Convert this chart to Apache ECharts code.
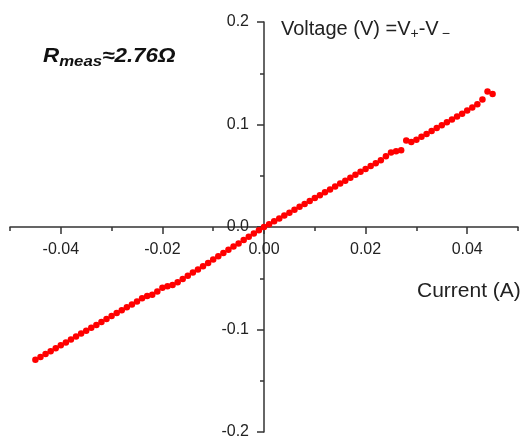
<!DOCTYPE html>
<html>
<head>
<meta charset="utf-8">
<script src="https://cdn.jsdelivr.net/npm/echarts@6/dist/echarts.min.js"></script>
<style>
  html, body { margin: 0; padding: 0; background: #fff; }
  #chart { width: 522px; height: 442px; }
</style>
</head>
<body>
<div id="chart"></div>
<script>
// Measured I-V sweep: current (A) and voltage V+ - V- (V)
const current = [
  -0.045, -0.044, -0.043, -0.042, -0.041, -0.040, -0.039, -0.038, -0.037, -0.036,
  -0.035, -0.034, -0.033, -0.032, -0.031, -0.030, -0.029, -0.028, -0.027, -0.026,
  -0.025, -0.024, -0.023, -0.022, -0.021, -0.020, -0.019, -0.018, -0.017, -0.016,
  -0.015, -0.014, -0.013, -0.012, -0.011, -0.010, -0.009, -0.008, -0.007, -0.006,
  -0.005, -0.004, -0.003, -0.002, -0.001, 0.000, 0.001, 0.002, 0.003, 0.004,
  0.005, 0.006, 0.007, 0.008, 0.009, 0.010, 0.011, 0.012, 0.013, 0.014,
  0.015, 0.016, 0.017, 0.018, 0.019, 0.020, 0.021, 0.022, 0.023, 0.024,
  0.025, 0.026, 0.027, 0.028, 0.029, 0.030, 0.031, 0.032, 0.033, 0.034,
  0.035, 0.036, 0.037, 0.038, 0.039, 0.040, 0.041, 0.042, 0.043, 0.044,
  0.045
];
const voltage = [
  -0.1295, -0.1268, -0.1240, -0.1212, -0.1183, -0.1154, -0.1126, -0.1097, -0.1068, -0.1040,
  -0.1011, -0.0983, -0.0955, -0.0926, -0.0897, -0.0869, -0.0840, -0.0812, -0.0783, -0.0755,
  -0.0727, -0.0695, -0.0672, -0.0662, -0.0630, -0.0592, -0.0578, -0.0566, -0.0540, -0.0508,
  -0.0476, -0.0445, -0.0414, -0.0382, -0.0350, -0.0318, -0.0286, -0.0254, -0.0222, -0.0191,
  -0.0160, -0.0128, -0.0096, -0.0064, -0.0032, 0.0000, 0.0026, 0.0055, 0.0083, 0.0112,
  0.0140, 0.0168, 0.0197, 0.0225, 0.0254, 0.0282, 0.0310, 0.0339, 0.0367, 0.0396,
  0.0424, 0.0452, 0.0481, 0.0509, 0.0538, 0.0566, 0.0594, 0.0623, 0.0651, 0.0690,
  0.0728, 0.0738, 0.0750, 0.0845, 0.0830, 0.0852, 0.0880, 0.0908, 0.0936, 0.0965,
  0.0993, 0.1021, 0.1050, 0.1078, 0.1106, 0.1136, 0.1166, 0.1198, 0.1245, 0.1322,
  0.1297
];

// Axis ticks
const xMajorTicks = [-0.04, -0.02, 0.00, 0.02, 0.04];
const xMinorTicks = [-0.05, -0.03, -0.01, 0.01, 0.03, 0.05];
const yTicks = [-0.2, -0.1, 0.0, 0.1, 0.2];

const points = current.map((c, i) => [c, voltage[i]]);

const axisColor = '#333';
const textColor = '#222';
const font = 'Liberation Sans, Arial, sans-serif';

// Plot area; the axes cross at the centre of it
const grid = { left: 10, right: 4, top: 22, bottom: 10 };
const plotW = 522 - grid.left - grid.right;
const plotH = 442 - grid.top - grid.bottom;
const xAxisShift = -plotH / 2;   // bottom axis moved up to V = 0
const yAxisShift = -plotW / 2;   // left axis moved right to I = 0

const chart = echarts.init(document.getElementById('chart'), null, { renderer: 'canvas' });

chart.setOption({
  animation: false,
  backgroundColor: '#fff',
  grid: Object.assign({ containLabel: false, outerBoundsMode: 'none' }, grid),
  xAxis: [
    {
      type: 'value',
      position: 'bottom',
      offset: xAxisShift,
      min: -0.05, max: 0.05,
      axisLine: { onZero: false, lineStyle: { color: axisColor, width: 1.5 } },
      axisTick: { show: true, inside: false, length: 4, customValues: xMinorTicks, lineStyle: { color: axisColor, width: 1.5 } },
      axisLabel: { show: false },
      splitLine: { show: false }
    },
    {
      type: 'value',
      position: 'bottom',
      offset: xAxisShift,
      min: -0.05, max: 0.05,
      axisLine: { show: false, onZero: false },
      axisTick: { show: true, inside: false, length: 7, customValues: xMajorTicks, lineStyle: { color: axisColor, width: 1.5 } },
      axisLabel: {
        show: true, customValues: xMajorTicks, margin: 15,
        color: textColor, fontFamily: font, fontSize: 16,
        formatter: v => v.toFixed(2)
      },
      splitLine: { show: false }
    }
  ],
  yAxis: {
    type: 'value',
    position: 'left',
    offset: yAxisShift,
    min: yTicks[0], max: yTicks[yTicks.length - 1], interval: 0.1,
    axisLine: { onZero: false, lineStyle: { color: axisColor, width: 1.5 } },
    axisTick: { show: true, inside: false, length: 7, lineStyle: { color: axisColor, width: 1.5 } },
    minorTick: { show: true, splitNumber: 2, length: 4, lineStyle: { color: axisColor, width: 1.5 } },
    axisLabel: {
      margin: 15, color: textColor, fontFamily: font, fontSize: 16,
      formatter: v => v.toFixed(1)
    },
    splitLine: { show: false },
    minorSplitLine: { show: false }
  },
  series: [
    {
      type: 'scatter',
      xAxisIndex: 0,
      data: points,
      symbol: 'circle',
      symbolSize: 6.5,
      itemStyle: { color: '#f00', opacity: 1 }
    }
  ],
  graphic: [
    {
      type: 'text', x: 281, y: 17,
      style: {
        x: 0, y: 0, verticalAlign: 'top',
        text: '{m|Voltage (V) =V}{s|+}{m|-V}{t|−}',
        rich: {
          m: { fontFamily: font, fontSize: 20, fill: textColor, lineHeight: 24 },
          s: { fontFamily: font, fontSize: 14, fill: textColor, verticalAlign: 'bottom', lineHeight: 17 },
          t: { fontFamily: font, fontSize: 14, fill: textColor, verticalAlign: 'bottom', lineHeight: 17, padding: [0, 0, 0, 3] }
        }
      }
    },
    {
      type: 'text', x: 417, y: 281,
      style: { x: 0, y: 0, verticalAlign: 'top', text: 'Current (A)', fontFamily: font, fontSize: 21, fill: textColor }
    },
    {
      type: 'text', x: 43, y: 43, scaleX: 1.12,
      style: {
        x: 0, y: 0, verticalAlign: 'top',
        text: '{r|R}{s|meas}{r|≈2.76Ω}',
        rich: {
          r: { fontFamily: font, fontSize: 20, fontWeight: 'bold', fontStyle: 'italic', fill: '#111', lineHeight: 26 },
          s: { fontFamily: font, fontSize: 15, fontWeight: 'bold', fontStyle: 'italic', fill: '#111', verticalAlign: 'bottom', lineHeight: 19 }
        }
      }
    }
  ]
});
</script>
</body>
</html>
